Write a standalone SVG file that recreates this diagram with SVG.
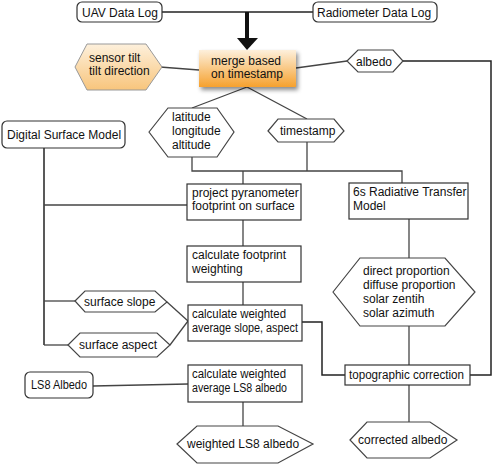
<svg xmlns="http://www.w3.org/2000/svg" width="492" height="464" viewBox="0 0 492 464">
<style>
text{font-family:"Liberation Sans",Arial,sans-serif;font-size:12px;fill:#111}
.box{fill:#fff;stroke:#333;stroke-width:1.2}
.hex{fill:#fff;stroke:#444;stroke-width:1.2}
.ln{fill:none;stroke:#444;stroke-width:1.3}
.dk{fill:none;stroke:#222;stroke-width:1.5}
</style>
<defs>
<linearGradient id="og" x1="0" y1="0" x2="0" y2="1">
<stop offset="0" stop-color="#fdf0dc"/>
<stop offset="1" stop-color="#f6a12e"/>
</linearGradient>
<linearGradient id="og2" x1="0" y1="0" x2="0" y2="1">
<stop offset="0" stop-color="#fdf0dc"/>
<stop offset="1" stop-color="#f8c57c"/>
</linearGradient>
<filter id="sh" x="-20%" y="-20%" width="150%" height="160%">
<feDropShadow dx="2" dy="3" stdDeviation="2" flood-color="#000" flood-opacity="0.45"/>
</filter>
</defs>

<g id="connectors">
<line class="dk" x1="162" y1="12" x2="313" y2="12"/>
<line x1="247" y1="12" x2="247" y2="39" stroke="#111" stroke-width="4"/>
<polygon points="237,38 258,38 247,50" fill="#111"/>
<line class="ln" x1="160" y1="67" x2="199" y2="70"/>
<line class="ln" x1="296" y1="68" x2="347" y2="61"/>
<polyline class="dk" points="403,61 491,61 491,375 470,375"/>
<line class="ln" x1="247" y1="87" x2="192" y2="108"/>
<line class="ln" x1="247" y1="87" x2="307" y2="119"/>
<polyline class="ln" points="192,157 192,171 402,171 402,183"/>
<line class="ln" x1="307" y1="142" x2="307" y2="171"/>
<line class="ln" x1="243" y1="171" x2="243" y2="184"/>
<line class="dk" x1="44" y1="148" x2="44" y2="345"/>
<line class="ln" x1="44" y1="205" x2="187" y2="205"/>
<line class="ln" x1="44" y1="301" x2="75" y2="301"/>
<line class="ln" x1="44" y1="345" x2="68" y2="345"/>
<line class="ln" x1="243" y1="220" x2="243" y2="246"/>
<line class="ln" x1="243" y1="282" x2="243" y2="305"/>
<line class="ln" x1="167" y1="302" x2="188" y2="321"/>
<line class="ln" x1="170" y1="345" x2="188" y2="321"/>
<polyline class="dk" points="302,322 322,322 322,375 345,375"/>
<line class="ln" x1="409" y1="219" x2="409" y2="258"/>
<line class="ln" x1="409" y1="326" x2="409" y2="365"/>
<line class="ln" x1="409" y1="385" x2="409" y2="422"/>
<line class="ln" x1="93" y1="386" x2="188" y2="384"/>
<line class="ln" x1="243" y1="402" x2="243" y2="426"/>
</g>

<g id="uav">
<rect class="box" x="77" y="2" width="85" height="20" rx="5"/>
<text x="82" y="17">UAV Data Log</text>
</g>
<g id="radiometer">
<rect class="box" x="313" y="2" width="124" height="20" rx="5"/>
<text x="317" y="17">Radiometer Data Log</text>
</g>
<g id="merge">
<rect x="199" y="50" width="97" height="37" fill="url(#og)" filter="url(#sh)"/>
<text x="211" y="65">merge based</text>
<text x="211" y="78">on timestamp</text>
</g>
<g id="sensor-tilt">
<polygon points="75,67 87,44 146,44 162,67 146,90 87,90" fill="url(#og2)" stroke="#999" stroke-width="1"/>
<text x="89" y="62">sensor tilt</text>
<text x="89" y="75">tilt direction</text>
</g>
<g id="albedo">
<polygon class="hex" points="347,61 358,50 393,50 403,61 393,72 358,72"/>
<text x="356" y="66">albedo</text>
</g>
<g id="latlon">
<polygon class="hex" points="149,132 168,108 217,108 234,132 217,157 168,157"/>
<text x="172" y="121">latitude</text>
<text x="172" y="135">longitude</text>
<text x="172" y="149">altitude</text>
</g>
<g id="timestamp">
<polygon class="hex" points="268,131 278,119 334,119 344,131 334,142 278,142"/>
<text x="280" y="135">timestamp</text>
</g>
<g id="dsm">
<rect class="box" x="2" y="121" width="123" height="27" rx="5"/>
<text x="7" y="139">Digital Surface Model</text>
</g>
<g id="project">
<rect class="box" x="187" y="184" width="114" height="36"/>
<text x="192" y="197">project pyranometer</text>
<text x="192" y="210">footprint on surface</text>
</g>
<g id="sixs">
<rect class="box" x="349" y="183" width="119" height="36"/>
<text x="353" y="196">6s Radiative Transfer</text>
<text x="353" y="210">Model</text>
</g>
<g id="footprint">
<rect class="box" x="187" y="246" width="114" height="36"/>
<text x="192" y="259">calculate footprint</text>
<text x="192" y="273">weighting</text>
</g>
<g id="solar">
<polygon class="hex" points="333,292 360,258 445,258 475,292 445,326 360,326"/>
<text x="363" y="275">direct proportion</text>
<text x="363" y="289">diffuse proportion</text>
<text x="363" y="303">solar zentih</text>
<text x="363" y="317">solar azimuth</text>
</g>
<g id="slope">
<polygon class="hex" points="75,301 85,291 155,291 167,302 155,312 85,312"/>
<text x="84" y="306">surface slope</text>
</g>
<g id="aspect">
<polygon class="hex" points="68,345 80,333 157,333 170,345 157,357 80,357"/>
<text x="79" y="349">surface aspect</text>
</g>
<g id="weighted-slope">
<rect class="box" x="188" y="305" width="114" height="36"/>
<text x="192" y="318" textLength="94" lengthAdjust="spacingAndGlyphs">calculate weighted</text>
<text x="192" y="332" textLength="106" lengthAdjust="spacingAndGlyphs">average slope, aspect</text>
</g>
<g id="topo">
<rect class="box" x="345" y="365" width="125" height="20"/>
<text x="349" y="379" textLength="115" lengthAdjust="spacingAndGlyphs">topographic correction</text>
</g>
<g id="ls8">
<rect class="box" x="25" y="372" width="68" height="26" rx="5"/>
<text x="31" y="389" textLength="56" lengthAdjust="spacingAndGlyphs">LS8 Albedo</text>
</g>
<g id="weighted-ls8">
<rect class="box" x="188" y="365" width="114" height="37"/>
<text x="192" y="378" textLength="94" lengthAdjust="spacingAndGlyphs">calculate weighted</text>
<text x="192" y="392" textLength="95" lengthAdjust="spacingAndGlyphs">average LS8 albedo</text>
</g>
<g id="weighted-ls8-albedo">
<polygon class="hex" points="177,444 197,426 278,426 313,444 278,463 197,463"/>
<text x="187" y="448">weighted LS8 albedo</text>
</g>
<g id="corrected">
<polygon class="hex" points="350,440 367,422 430,422 457,440 430,458 367,458"/>
<text x="358" y="444">corrected albedo</text>
</g>
</svg>
